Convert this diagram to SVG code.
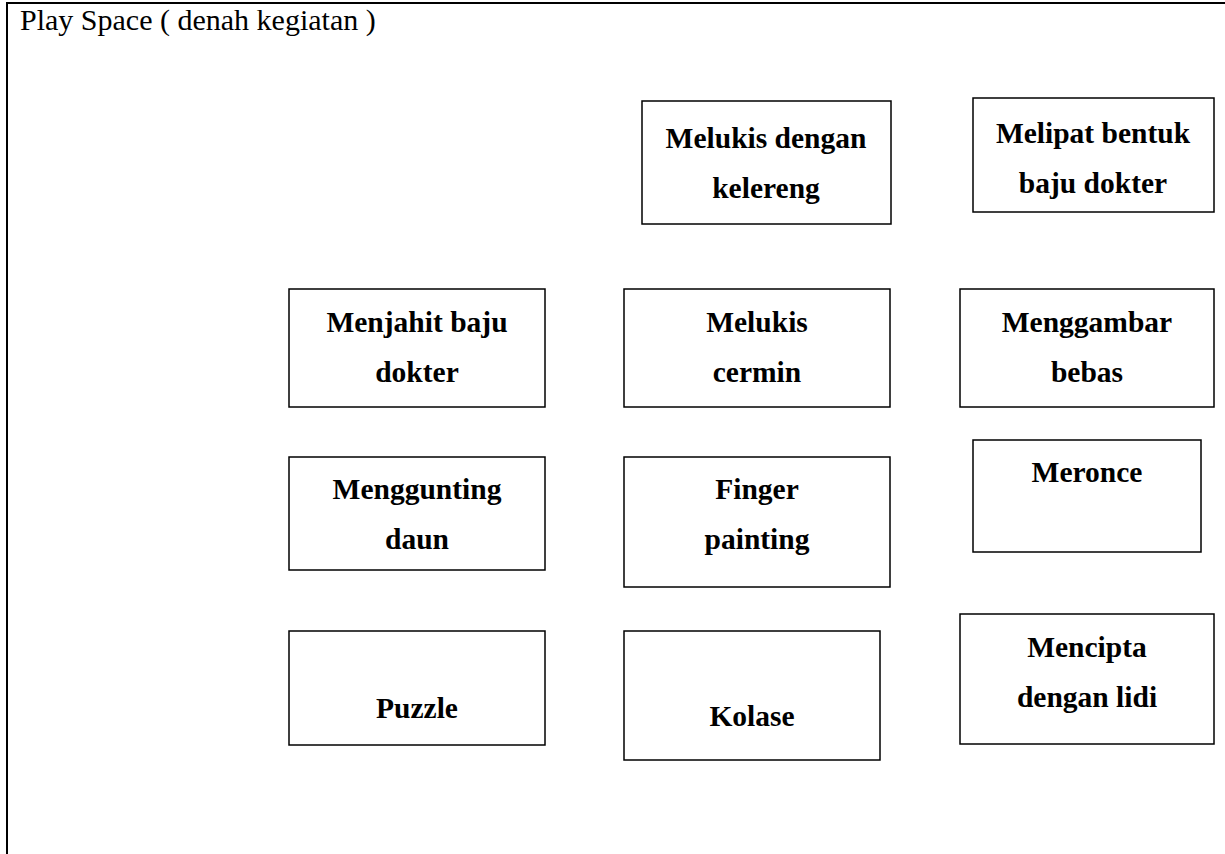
<svg xmlns="http://www.w3.org/2000/svg" width="1225" height="854" viewBox="0 0 1225 854">
<style>
.frame{fill:none;stroke:#000;stroke-width:2}
.box{fill:#fff;stroke:#000;stroke-width:1.5}
.lbl{font-family:"Liberation Serif","Times New Roman",serif;font-weight:bold;font-size:29.5px;fill:#000;text-anchor:middle}
.title{font-family:"Liberation Serif","Times New Roman",serif;font-size:30px;fill:#000}
</style>
<rect width="1225" height="854" fill="#fff"/>
<g id="frame">
<path class="frame" d="M7,854 V3 H1225"/>
<text class="title" x="20" y="30">Play Space ( denah kegiatan )</text>
</g>
<g id="connectors"></g>
<g id="n1"><rect class="box" x="642" y="101" width="249" height="123"/><text class="lbl"><tspan x="766" y="148">Melukis dengan</tspan><tspan x="766" y="198">kelereng</tspan></text></g>
<g id="n2"><rect class="box" x="973" y="98" width="241" height="114"/><text class="lbl"><tspan x="1093" y="143">Melipat bentuk</tspan><tspan x="1093" y="193">baju dokter</tspan></text></g>
<g id="n3"><rect class="box" x="289" y="289" width="256" height="118"/><text class="lbl"><tspan x="417" y="332">Menjahit baju</tspan><tspan x="417" y="382">dokter</tspan></text></g>
<g id="n4"><rect class="box" x="624" y="289" width="266" height="118"/><text class="lbl"><tspan x="757" y="332">Melukis</tspan><tspan x="757" y="382">cermin</tspan></text></g>
<g id="n5"><rect class="box" x="960" y="289" width="254" height="118"/><text class="lbl"><tspan x="1087" y="332">Menggambar</tspan><tspan x="1087" y="382">bebas</tspan></text></g>
<g id="n6"><rect class="box" x="289" y="457" width="256" height="113"/><text class="lbl"><tspan x="417" y="499">Menggunting</tspan><tspan x="417" y="549">daun</tspan></text></g>
<g id="n7"><rect class="box" x="624" y="457" width="266" height="130"/><text class="lbl"><tspan x="757" y="499">Finger</tspan><tspan x="757" y="549">painting</tspan></text></g>
<g id="n8"><rect class="box" x="973" y="440" width="228" height="112"/><text class="lbl" x="1087" y="482">Meronce</text></g>
<g id="n9"><rect class="box" x="289" y="631" width="256" height="114"/><text class="lbl" x="417" y="718">Puzzle</text></g>
<g id="n10"><rect class="box" x="624" y="631" width="256" height="129"/><text class="lbl" x="752" y="726">Kolase</text></g>
<g id="n11"><rect class="box" x="960" y="614" width="254" height="130"/><text class="lbl"><tspan x="1087" y="657">Mencipta</tspan><tspan x="1087" y="707">dengan lidi</tspan></text></g>
</svg>
